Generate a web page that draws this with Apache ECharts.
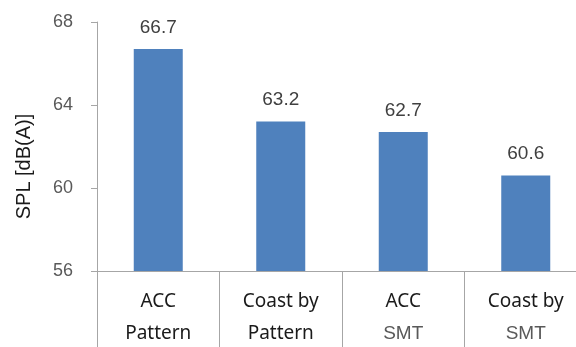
<!DOCTYPE html>
<html>
<head>
<meta charset="utf-8">
<style>
  html, body { margin: 0; padding: 0; background: #fff; }
  #chart { width: 576px; height: 347px; }
</style>
<script src="https://cdn.jsdelivr.net/npm/echarts@6/dist/echarts.min.js"></script>
</head>
<body>
<div id="chart"></div>
<script>
// Sound pressure level for each driving mode
const categoryTop = ['ACC', 'Coast by', 'ACC', 'Coast by'];
const categoryBottom = ['Pattern', 'Pattern', 'SMT', 'SMT'];
const splValues = [66.7, 63.2, 62.7, 60.6];
const yTicks = [56, 60, 64, 68];

const categories = categoryTop.map((t, i) => t + '\n' + categoryBottom[i]);

const chart = echarts.init(document.getElementById('chart'));
chart.setOption({
  animation: false,
  // the plot runs past the right edge, so the last column is clipped
  grid: {
    left: 97, right: -11, top: 22, bottom: 76,
    containLabel: false,
    outerBoundsMode: 'none'
  },
  xAxis: {
    type: 'category',
    data: categories,
    axisLine: { show: true, lineStyle: { color: '#a6a6a6', width: 1 } },
    axisTick: {
      show: true,
      alignWithLabel: false,
      length: 76,
      lineStyle: { color: '#a6a6a6', width: 1 }
    },
    axisLabel: {
      margin: 15,
      interval: 0,
      formatter: function (v) {
        const parts = v.split('\n');
        const second = parts[1] === 'SMT' ? '{c|' + parts[1] + '}' : '{b|' + parts[1] + '}';
        return '{a|' + parts[0] + '}\n' + second;
      },
      rich: {
        a: { fontFamily: 'Noto Sans', fontSize: 19, color: '#1a1a1a', lineHeight: 32 },
        b: { fontFamily: 'Noto Sans', fontSize: 19, color: '#1a1a1a', lineHeight: 32 },
        c: { fontFamily: 'Liberation Sans', fontSize: 19, color: '#595959', lineHeight: 32 }
      }
    },
    splitLine: { show: false }
  },
  yAxis: {
    type: 'value',
    min: yTicks[0],
    max: yTicks[yTicks.length - 1],
    interval: yTicks[1] - yTicks[0],
    name: 'SPL [dB(A)]',
    nameLocation: 'middle',
    nameGap: 63,
    nameRotate: 90,
    nameTextStyle: {
      fontFamily: 'Liberation Sans',
      fontSize: 20,
      color: '#1a1a1a',
      // nudge the title below the middle of the axis
      padding: [0, 40, 0, 0]
    },
    axisLine: { show: true, lineStyle: { color: '#a6a6a6', width: 1 } },
    axisTick: { show: true, length: 6, lineStyle: { color: '#a6a6a6', width: 1 } },
    axisLabel: {
      margin: 24,
      fontFamily: 'Liberation Sans',
      fontSize: 18,
      color: '#595959'
    },
    splitLine: { show: false }
  },
  series: [{
    type: 'bar',
    data: splValues,
    barWidth: 49,
    itemStyle: { color: '#4f81bd' },
    label: {
      show: true,
      position: 'top',
      distance: 12,
      fontFamily: 'Liberation Sans',
      fontSize: 19,
      color: '#404040',
      formatter: function (p) { return p.value.toFixed(1); }
    }
  }]
});
</script>
</body>
</html>
